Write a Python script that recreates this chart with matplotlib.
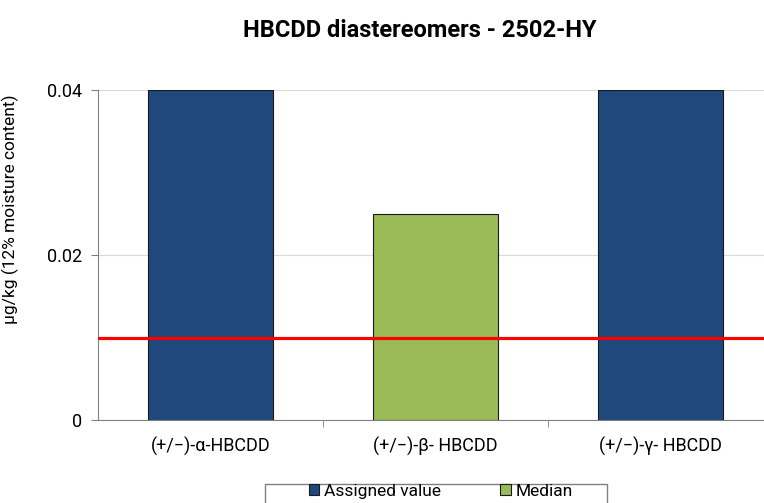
import numpy as np
import matplotlib.pyplot as plt
from matplotlib.patches import Patch, Rectangle

categories = ["(+/\u2212)-\u03b1-HBCDD", "(+/\u2212)-\u03b2- HBCDD", "(+/\u2212)-\u03b3- HBCDD"]
assigned = [0.04, None, 0.04]
median = [None, 0.025, None]
limit_line = 0.01

plt.rcParams['font.family'] = ['Roboto', 'DejaVu Sans']

fig = plt.figure(figsize=(7.64, 5.03), dpi=100)
ax = fig.add_axes([0.128, 0.165, 0.884, 0.656])

x = np.arange(len(categories))
navy = "#1F497D"
green = "#9BBB59"
for i in range(len(categories)):
    if assigned[i] is not None:
        ax.bar(x[i], assigned[i], width=0.556, color=navy, edgecolor="#1a1a1a", linewidth=0.8, zorder=2)
    if median[i] is not None:
        ax.bar(x[i], median[i], width=0.556, color=green, edgecolor="#1a1a1a", linewidth=0.8, zorder=2)

ax.axhline(limit_line, color="#FF0000", linewidth=2.3, zorder=3)

ax.set_xlim(-0.5, len(categories) - 0.5)
ax.set_ylim(0, 0.04)
ax.set_yticks([0, 0.02, 0.04])
ax.set_yticklabels(["0", "0.02", "0.04"], fontsize=13)
ax.set_xticks(x)
ax.set_xticklabels(categories, fontsize=13)
ax.tick_params(axis='x', length=0, pad=12)
ax.set_xticks([0.5, 1.5], minor=True)
ax.tick_params(axis='x', which='minor', length=5, color="#808080")
ax.tick_params(axis='y', length=5, color="#808080", pad=6)
ax.grid(axis='y', color="#d9d9d9", linewidth=0.8, zorder=0)
ax.set_axisbelow(True)
for s in ["top", "right"]:
    ax.spines[s].set_visible(False)
for s in ["left", "bottom"]:
    ax.spines[s].set_color("#808080")

ax.set_ylabel("\u00b5g/kg (12% moisture content)", fontsize=12.5)
ax.yaxis.set_label_coords(-0.116, 0.64)
fig.text(0.55, 0.94, "HBCDD diastereomers - 2502-HY", ha="center", va="center",
         fontsize=17, fontweight="bold")

handles = [Patch(facecolor=navy, edgecolor="#1a1a1a", linewidth=0.8),
           Patch(facecolor=green, edgecolor="#1a1a1a", linewidth=0.8)]
leg = fig.legend(handles, ["Assigned value", "Median"], ncol=2, loc="upper center",
                 bbox_to_anchor=(0.577, 0.040), fontsize=12.5, frameon=False,
                 handlelength=0.6, handleheight=0.6, handletextpad=0.3, columnspacing=3.4,
                 borderpad=0.05, borderaxespad=0)
fig.patches.append(Rectangle((265 / 764, -0.02), (607 - 265) / 764, 0.02 + 19 / 503,
                             transform=fig.transFigure, fill=False, edgecolor="#808080",
                             linewidth=1.0))

fig.savefig("out.png", dpi=100)
